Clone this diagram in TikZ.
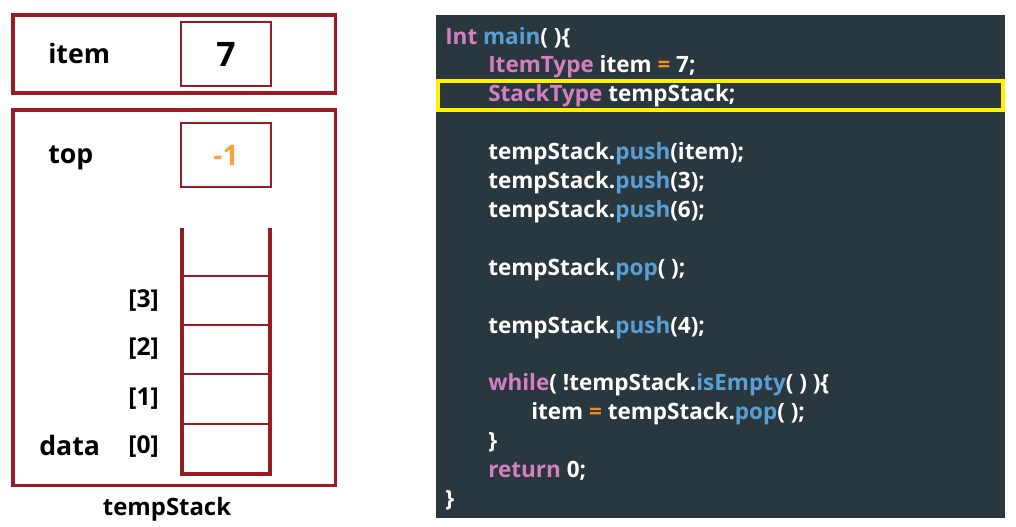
\documentclass[tikz,border=0pt]{standalone}
\usepackage{fontspec}
\setmainfont{Open Sans}
\usetikzlibrary{positioning}
\definecolor{frame}{HTML}{9B1B22}
\definecolor{panel}{HTML}{29373F}
\definecolor{kwpink}{HTML}{D47FBF}
\definecolor{fnblue}{HTML}{5A9FD4}
\definecolor{oporange}{HTML}{F08A24}
\definecolor{valorange}{HTML}{F9A33C}
\definecolor{hilite}{HTML}{FFF200}
\newcommand{\kwd}[1]{\textcolor{kwpink}{#1}}
\newcommand{\fnc}[1]{\textcolor{fnblue}{#1}}
\newcommand{\opr}[1]{\textcolor{oporange}{#1}}
\tikzset{outer/.style={draw=frame, line width=2.2pt, minimum width=8.05cm, inner sep=0pt}, valbox/.style={draw=frame, line width=1.6pt, minimum width=2.25cm, minimum height=1.6cm, inner sep=0pt, font=\bfseries}, varlab/.style={anchor=base west, inner sep=0pt, font=\fontsize{19}{22}\selectfont\bfseries}, idx/.style={anchor=east, inner sep=0pt, font=\fontsize{17.5}{20}\selectfont\bfseries}, code/.style={anchor=base west, inner sep=0pt, text=white, font=\fontsize{16}{19}\selectfont\bfseries}}
\begin{document}
\begin{tikzpicture}[x=0.025cm, y=-0.025cm]
\useasboundingbox (0,0) rectangle (1016,526);
% variable item
\node[outer, minimum height=1.95cm] (itembox) at (174,54) {};
\node[varlab] (itemlab) at (48,63) {item};
\node[valbox, font=\fontsize{24}{26}\selectfont\bfseries] (itemval) at (226,54) {7};
% stack object
\node[outer, minimum height=9.375cm] (stackbox) at (174,297.5) {};
\node[varlab] (toplab) at (48,163) {top};
\node[valbox, text=valorange, font=\fontsize{20}{24}\selectfont\bfseries] (topval) at (226,155) {-1};
\draw[frame, line width=2.2pt] (182,228) -- (182,474) -- (270,474) -- (270,228);
\foreach \y in {276,325,374,424} \draw[frame, line width=0.8pt] (182,\y) -- (270,\y);
\foreach \i/\y in {3/301,2/349,1/399,0/447} \node[idx] (idx\i) at (159,\y) {[\i]};
\node[varlab] (datalab) at (39,455) {data};
\node[font=\fontsize{17}{20}\selectfont\bfseries, anchor=base] (stackname) at (167,515) {tempStack};
% code panel
\fill[panel] (436,15) rectangle (1005,518);
\draw[hilite, line width=2.4pt] (438,81) rectangle (1003,110);
\node[code] (l0) at (445,44) {\kwd{Int} \fnc{main}( )\{};
\node[code] (l1) at (488,72.9) {\kwd{ItemType} item \opr{=} 7;};
\node[code] (l2) at (488,101.8) {\kwd{StackType} tempStack;};
\node[code] (l4) at (488,159.6) {tempStack.\fnc{push}(item);};
\node[code] (l5) at (488,188.5) {tempStack.\fnc{push}(3);};
\node[code] (l6) at (488,217.4) {tempStack.\fnc{push}(6);};
\node[code] (l8) at (488,275.2) {tempStack.\fnc{pop}( );};
\node[code] (l10) at (488,333) {tempStack.\fnc{push}(4);};
\node[code] (l12) at (488,390.8) {\kwd{while}( !tempStack.\fnc{isEmpty}( ) )\{};
\node[code] (l13) at (531,419.7) {item \opr{=} tempStack.\fnc{pop}( );};
\node[code] (l14) at (488,448.6) {\}};
\node[code] (l15) at (488,477.5) {\kwd{return} 0;};
\node[code] (l16) at (445,506.4) {\}};
\end{tikzpicture}
\end{document}
